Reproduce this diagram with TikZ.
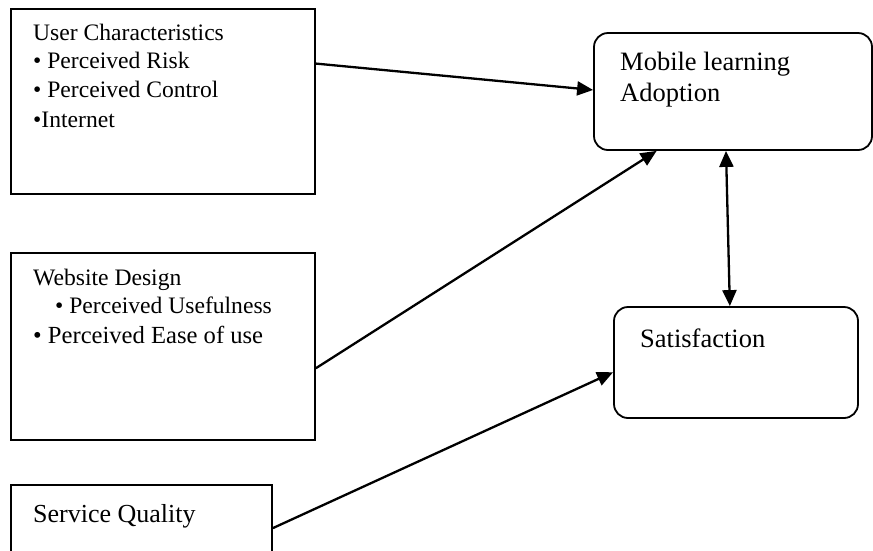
\documentclass[tikz,border=0pt]{standalone}
\usepackage{fontspec}
\setmainfont{Liberation Serif}
\usetikzlibrary{arrows.meta,calc}

\tikzset{
  factor/.style={draw=black, line width=1.8pt, inner sep=0pt, rectangle},
  outcome/.style={draw=black, line width=1.8pt, inner sep=0pt, rectangle, rounded corners=14pt},
  label/.style={anchor=base west, inner sep=0pt, text=black},
  link/.style={line width=2.3pt, -{Triangle[length=16pt,width=14pt]}},
  bilink/.style={line width=2.3pt, {Triangle[length=16pt,width=14pt]}-{Triangle[length=16pt,width=14pt]}},
}
\newcommand{\fsA}{\fontsize{23.6pt}{28pt}\selectfont}
\newcommand{\fsB}{\fontsize{24.6pt}{29pt}\selectfont}
\newcommand{\fsC}{\fontsize{26pt}{31pt}\selectfont}
\newcommand{\fsD}{\fontsize{26.5pt}{31pt}\selectfont}

\begin{document}
\begin{tikzpicture}[x=1pt,y=-1pt]
\useasboundingbox (0,0) rectangle (873,550);
\clip (0,0) rectangle (873,550);
\fill[white] (0,0) rectangle (873,550);

% left-hand factor boxes
\node[factor, minimum width=304pt, minimum height=185pt] (uc) at (163,101.5) {};
\node[factor, minimum width=304pt, minimum height=187pt] (wd) at (163,346.5) {};
\node[factor, minimum width=261pt, minimum height=100pt] (sq) at (141.5,535) {};

% right-hand outcome boxes
\node[outcome, minimum width=278pt, minimum height=117pt] (ml) at (733,91.5) {};
\node[outcome, minimum width=244pt, minimum height=111pt] (sat) at (736,362.5) {};

% texts of the user characteristics box
\node[label] (uc1) at (33,40.5) {\fsA User Characteristics};
\node[label] (uc2) at (33,68.5) {\fsA • Perceived Risk};
\node[label] (uc3) at (33,97) {\fsA • Perceived Control};
\node[label] (uc4) at (33,127) {\fsA •Internet};

% texts of the website design box
\node[label] (wd1) at (33,285) {\fsA Website Design};
\node[label] (wd2) at (55,313) {\fsA • Perceived Usefulness};
\node[label] (wd3) at (33,343) {\fsB • Perceived Ease of use};

% service quality text
\node[label] (sq1) at (33,522) {\fsC Service Quality};

% outcome texts
\node[label] (ml1) at (620,70.5) {\fsD Mobile learning};
\node[label] (ml2) at (620,101) {\fsD Adoption};
\node[label] (sat1) at (640,347) {\fsD Satisfaction};

% connectors
\draw[link] ($(uc.north east)!0.297!(uc.south east)$) -- ($(ml.north west)!0.487!(ml.south west)$);
\draw[link] ($(wd.north east)!0.615!(wd.south east)$) -- ($(ml.south west)!0.227!(ml.south east)$);
\draw[bilink] ($(ml.south west)!0.475!(ml.south east)$) -- ($(sat.north west)!0.475!(sat.north east)$);
\draw[link] ($(sq.north east)+(0,44)$) -- ($(sat.north west)!0.586!(sat.south west)$);
\end{tikzpicture}
\end{document}
